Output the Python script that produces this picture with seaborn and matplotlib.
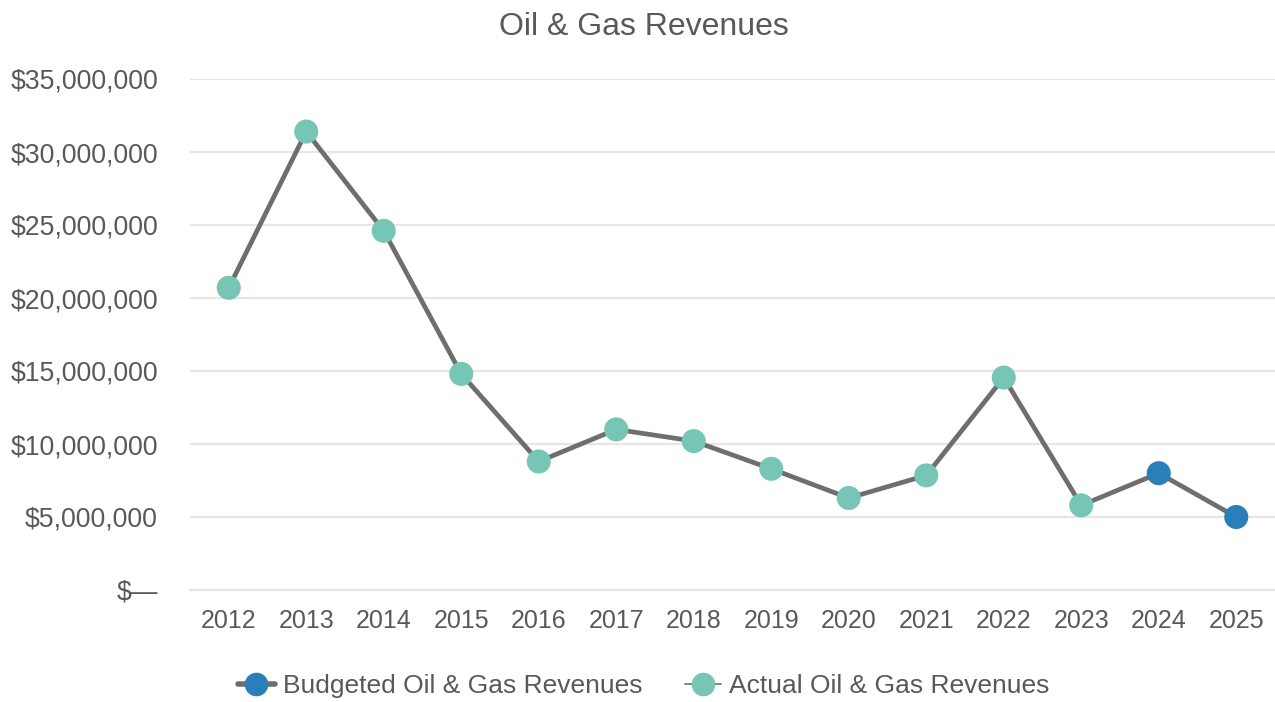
import matplotlib
matplotlib.use("Agg")
import matplotlib.pyplot as plt
import matplotlib.ticker as mticker
from matplotlib.lines import Line2D
import pandas as pd
import seaborn as sns

# data
years = [2012, 2013, 2014, 2015, 2016, 2017, 2018, 2019, 2020, 2021, 2022, 2023, 2024, 2025]
revenues = [20.7e6, 31.4e6, 24.6e6, 14.8e6, 8.8e6, 11.0e6, 10.2e6, 8.3e6, 6.3e6, 7.85e6,
            14.55e6, 5.8e6, 8.0e6, 5.0e6]
series = ["Actual"] * 12 + ["Budgeted"] * 2

TEXT = "#595959"
LINE = "#6e6e6e"
TEAL = "#76c5b5"
BLUE = "#2a7fb8"
GRID = "#e6e6e6"

df = pd.DataFrame({"Year": years, "Revenue": revenues, "Series": series})

sns.set_theme(style="white")
plt.rcParams["font.family"] = ["Liberation Sans", "DejaVu Sans"]

fig = plt.figure(figsize=(12.75, 7.02), dpi=100)
ax = fig.add_axes([190 / 1275, 112 / 702, 1 - 190 / 1275, 511 / 702])

sns.lineplot(data=df, x="Year", y="Revenue", color=LINE, linewidth=3.4, ax=ax, zorder=2)
sns.scatterplot(data=df, x="Year", y="Revenue", hue="Series",
                palette={"Actual": TEAL, "Budgeted": BLUE},
                s=300, linewidth=0, ax=ax, zorder=3, legend=False)

ax.set_xlim(2011.5, 2025.5)
ax.set_ylim(0, 35e6)
ax.set_xticks(years)
ax.set_yticks(range(0, 35000001, 5000000))
ax.yaxis.set_major_formatter(mticker.FuncFormatter(
    lambda v, p: "$\u2014" if v == 0 else f"${v:,.0f}"))
ax.set_xlabel("")
ax.set_ylabel("")

ax.grid(axis="y", color=GRID, linewidth=1.5)
ax.set_axisbelow(True)
for s in ["top", "right", "left"]:
    ax.spines[s].set_visible(False)
ax.spines["bottom"].set_color(GRID)
ax.spines["bottom"].set_linewidth(1.5)
ax.tick_params(axis="y", length=0, pad=23, labelsize=19.2, labelcolor=TEXT)
ax.tick_params(axis="x", length=6, width=1.2, color="#999999", direction="out",
               pad=8, labelsize=18, labelcolor=TEXT)

fig.text(0.505, 1 - 27 / 702, "Oil & Gas Revenues", ha="center", va="center",
         fontsize=23, color=TEXT)

handles = [
    Line2D([], [], color=LINE, linewidth=4, marker="o", markersize=17,
           markerfacecolor=BLUE, markeredgewidth=0),
    Line2D([], [], color=LINE, linewidth=1.2, marker="o", markersize=17,
           markerfacecolor=TEAL, markeredgewidth=0),
]
leg = fig.legend(handles, ["Budgeted Oil & Gas Revenues", "Actual Oil & Gas Revenues"],
                 loc="center", bbox_to_anchor=(0.505, 1 - 686 / 702), ncol=2,
                 frameon=False, fontsize=19, handlelength=1.4, handletextpad=0.3,
                 columnspacing=1.6)
for t in leg.get_texts():
    t.set_color(TEXT)

fig.savefig("out.png", dpi=100)
